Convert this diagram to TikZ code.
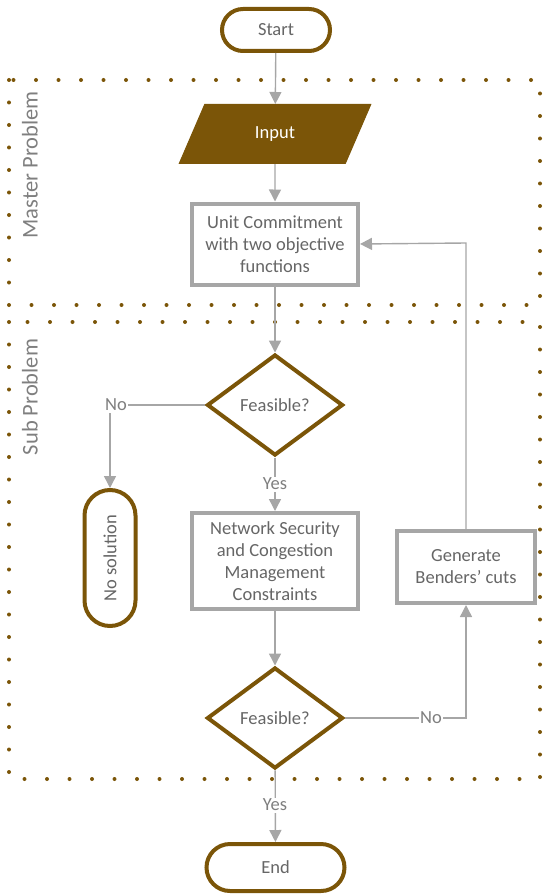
\documentclass[tikz,border=0pt]{standalone}
\usepackage{fontspec}
\setmainfont{Carlito}
\usetikzlibrary{shapes.geometric,shapes.misc,arrows.meta}
\definecolor{brn}{HTML}{7B5508}
\definecolor{lgray}{HTML}{A6A6A6}
\definecolor{tgray}{HTML}{666666}
\definecolor{lblgray}{HTML}{7F7F7F}
\tikzset{
  txt/.style={font=\fontsize{18.5}{22}\selectfont, text=tgray, align=center},
  term/.style={rounded rectangle, draw=brn, line width=4pt, fill=white, txt, inner sep=0pt},
  decision/.style={diamond, draw=brn, line width=4pt, fill=white, txt, inner sep=0pt, minimum width=136pt, minimum height=101pt},
  procbox/.style={rectangle, draw=lgray, line width=4pt, fill=white, txt, inner sep=0pt},
  conn/.style={draw=lgray, line width=1.4pt},
  arr/.style={conn, -{Triangle[width=12pt,length=12pt]}},
  lbl/.style={font=\fontsize{18.5}{22}\selectfont, text=lblgray, fill=white, inner sep=1.5pt},
  region/.style={draw=brn, line width=4pt, line cap=round, dash pattern=on 0pt off 22.5pt},
  regionlbl/.style={font=\fontsize{22.5}{26}\selectfont, text=lblgray, rotate=90}
}
\begin{document}
\begin{tikzpicture}[x=1pt,y=-1pt]
\useasboundingbox (0,0) rectangle (544,896);
% regions
\draw[region] (9,80) rectangle (540,305);
\draw[region] (9,322) rectangle (540,779);
\node[regionlbl] (mlab) at (30,165) {Master Problem};
\node[regionlbl] (slab) at (30,397) {Sub Problem};
% nodes
\node[term, minimum width=108pt, minimum height=42pt] (start) at (276,30) {Start};
\node[trapezium, trapezium left angle=64, trapezium right angle=116, trapezium stretches=true,
      minimum width=192pt, minimum height=59pt, fill=brn, draw=brn, line width=1pt,
      font=\fontsize{18.5}{22}\selectfont, text=white, inner sep=0pt] (input) at (275,134) {Input};
\node[procbox, minimum width=166pt, minimum height=81pt] (uc) at (275,244) {Unit Commitment\\with two objective\\functions};
\node[decision] (d1) at (275,405) {Feasible?};
\node[term, rotate=90, minimum width=136pt, minimum height=51pt] (nosol) at (110,558) {No solution};
\node[procbox, minimum width=166pt, minimum height=96pt] (ns) at (275,561) {Network Security\\and Congestion\\Management\\Constraints};
\node[decision] (d2) at (275,718) {Feasible?};
\node[procbox, minimum width=138pt, minimum height=72pt] (bend) at (466,567) {Generate\\Benders’ cuts};
\node[term, minimum width=138pt, minimum height=47pt] (end) at (275.5,867.5) {End};
% bend coordinates
\coordinate (c1) at (110,405);
\coordinate (c2) at (466,718);
\coordinate (c3) at (466,243);
% connectors
\draw[arr] (start) -- (input);
\draw[arr] (input) -- (uc);
\draw[arr] (uc) -- (d1);
\draw[arr] (d1.west) -- (c1) -- (nosol.east);
\node[lbl] (no1) at (116,405) {No};
\draw[arr] (d1) -- (ns);
\node[lbl] (yes1) at (275,484) {Yes};
\draw[arr] (ns) -- (d2);
\draw[arr] (d2.east) -- (c2) -- (bend.south);
\node[lbl] (no2) at (431,718) {No};
\draw[arr] (bend.north) -- (c3) -- (uc.east);
\draw[arr] (d2) -- (end);
\node[lbl] (yes2) at (275,805) {Yes};
\end{tikzpicture}
\end{document}
